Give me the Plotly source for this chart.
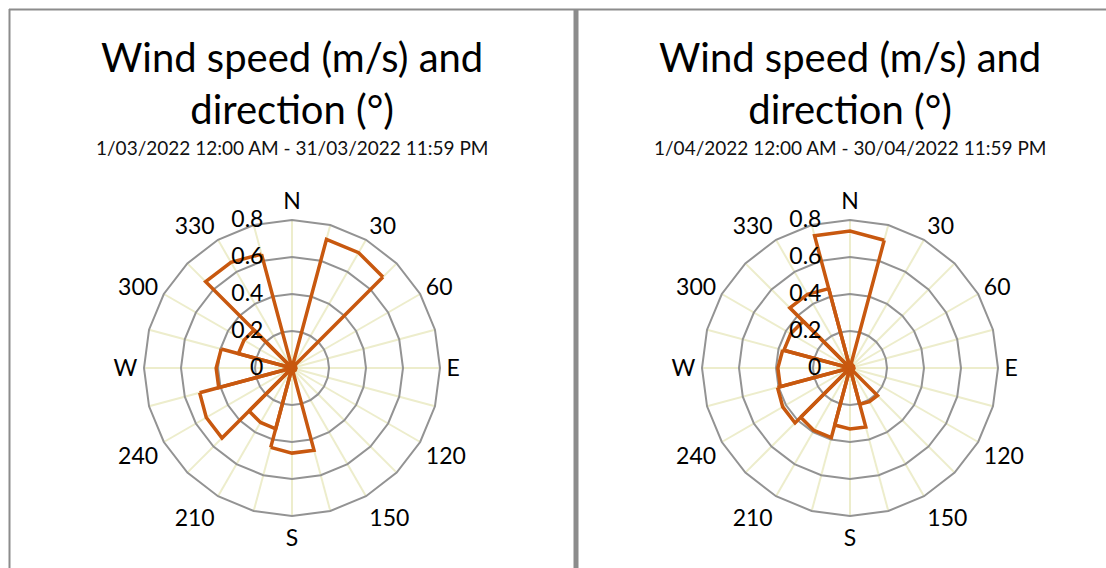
import plotly.graph_objects as go

# ---- data ----
sector_dirs = ["0", "30", "60", "90", "120", "150", "180", "210", "240", "270", "300", "330"]
march_speed = [0.02, 0.72, 0.02, 0.02, 0.02, 0.02, 0.46, 0.34, 0.535, 0.41, 0.30, 0.66]
april_speed = [0.74, 0.02, 0.02, 0.02, 0.02, 0.21, 0.33, 0.39, 0.42, 0.39, 0.37, 0.46]

grid_dirs = [str(d) for d in range(0, 360, 15)]
grid_labels = ["N", "", "30", "", "60", "", "E", "", "120", "", "150", "",
               "S", "", "210", "", "240", "", "W", "", "300", "", "330", ""]
radial_ticks = [0, 0.2, 0.4, 0.6, 0.8]
radial_labels = ["0", "0.2", "0.4", "0.6", "0.8"]

title_text = "Wind speed (m/s) and<br>direction (°)"
subtitles = ["1/03/2022 12:00 AM - 31/03/2022 11:59 PM",
             "1/04/2022 12:00 AM - 30/04/2022 11:59 PM"]

FONT = "Lato"
ORANGE = "#C8580F"
RING = "#939393"
SPOKE = "#EDEDCC"
BORDER = "#8C8C8C"
W, H = 1106, 568

fig = go.Figure()
for i, vals in enumerate([march_speed, april_speed]):
    fig.add_trace(go.Barpolar(
        theta=sector_dirs, r=vals, width=[2] * len(vals),
        marker=dict(color="rgba(0,0,0,0)", line=dict(color=ORANGE, width=3.5)),
        subplot="polar" if i == 0 else "polar2",
        showlegend=False, hoverinfo="skip",
    ))

centers_x = [292, 850]
cy = 368
rad = 148

def polar_layout(cx):
    return dict(
        domain=dict(x=[(cx - rad) / W, (cx + rad) / W],
                    y=[(H - cy - rad) / H, (H - cy + rad) / H]),
        gridshape="linear",
        bgcolor="white",
        angularaxis=dict(
            type="category", categoryorder="array", categoryarray=grid_dirs,
            direction="clockwise", rotation=90,
            tickmode="array", tickvals=grid_dirs, ticktext=grid_labels,
            showgrid=True, gridcolor=SPOKE, gridwidth=1.5,
            showline=True, linecolor=RING, linewidth=2,
            ticks="outside", ticklen=1, tickcolor="rgba(0,0,0,0)",
            tickfont=dict(family=FONT, size=23, color="#000000"),
        ),
        radialaxis=dict(
            range=[0, 0.8], tickvals=radial_ticks, ticktext=radial_labels,
            angle=90, side="counterclockwise", tickangle=90,
            showgrid=True, gridcolor=RING, gridwidth=2,
            showline=False, ticks="outside", ticklen=20, tickcolor="rgba(0,0,0,0)",
            tickfont=dict(family=FONT, size=23, color="#000000"),
        ),
    )

fig.update_layout(
    width=W, height=H,
    margin=dict(l=0, r=0, t=0, b=0),
    paper_bgcolor="white", plot_bgcolor="white",
    polar=polar_layout(centers_x[0]),
    polar2=polar_layout(centers_x[1]),
)

for i, cx in enumerate(centers_x):
    fig.add_annotation(x=cx / W, y=1 - 83 / H, xref="paper", yref="paper",
                       text=title_text, showarrow=False, xanchor="center", yanchor="middle",
                       font=dict(family=FONT, size=40, color="#000000"))
    fig.add_annotation(x=cx / W, y=1 - 147 / H, xref="paper", yref="paper",
                       text=subtitles[i], showarrow=False, xanchor="center", yanchor="middle",
                       font=dict(family=FONT, size=19, color="#111111"))

# panel borders
fig.add_shape(type="line", xref="paper", yref="paper", x0=9.5 / W, x1=9.5 / W, y0=0, y1=1 - 9 / H,
              line=dict(color=BORDER, width=2))
fig.add_shape(type="line", xref="paper", yref="paper", x0=9 / W, x1=1, y0=1 - 9.5 / H, y1=1 - 9.5 / H,
              line=dict(color=BORDER, width=2))
fig.add_shape(type="line", xref="paper", yref="paper", x0=576 / W, x1=576 / W, y0=0, y1=1 - 9 / H,
              line=dict(color=BORDER, width=5))

fig.write_html("out.html", config={"displayModeBar": False},
               post_script="document.body.style.margin='0px';")
